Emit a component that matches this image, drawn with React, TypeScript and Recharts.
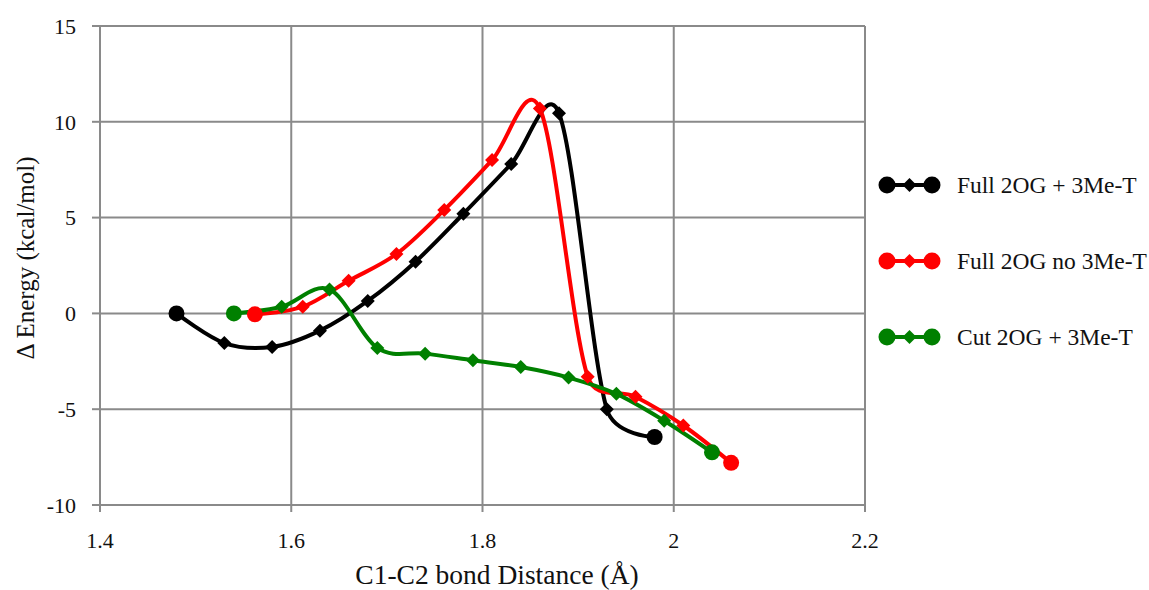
import React from 'react';
import { LineChart, Line, XAxis, YAxis, CartesianGrid, Legend, Customized } from 'recharts';

// ---------- data ----------
const blackX = [1.48, 1.53, 1.58, 1.63, 1.68, 1.73, 1.78, 1.83, 1.88, 1.93, 1.98];
const blackY = [0, -1.55, -1.75, -0.9, 0.65, 2.7, 5.2, 7.8, 10.45, -5.0, -6.45];

const redX = [1.562, 1.612, 1.66, 1.71, 1.76, 1.81, 1.86, 1.91, 1.96, 2.01, 2.06];
const redY = [-0.05, 0.35, 1.7, 3.1, 5.4, 8.0, 10.7, -3.3, -4.35, -5.85, -7.8];

const greenX = [1.54, 1.59, 1.64, 1.69, 1.74, 1.79, 1.84, 1.89, 1.94, 1.99, 2.04];
const greenY = [0, 0.35, 1.25, -1.8, -2.1, -2.45, -2.8, -3.35, -4.2, -5.6, -7.25];

const seriesNames = ['Full 2OG + 3Me-T', 'Full 2OG no 3Me-T', 'Cut 2OG + 3Me-T'];
const seriesColors = ['#000000', '#FF0000', '#008000'];

const xTicks = [1.4, 1.6, 1.8, 2, 2.2];
const yTicks = [-10, -5, 0, 5, 10, 15];

const xTitle = 'C1-C2 bond Distance (Å)';
const yTitle = 'Δ Energy (kcal/mol)';

const toPoints = (xs: number[], ys: number[]) => xs.map((x, i) => ({ x, y: ys[i] }));
const seriesData = [toPoints(blackX, blackY), toPoints(redX, redY), toPoints(greenX, greenY)];

// ---------- styles ----------
const FONT = '"Liberation Serif", "Times New Roman", serif';
const GRID = '#8a8a8a';
const LINE_W = 4;

// Cardinal smoothing with tangent length clamped to a fraction of the segment
function smoothCurve(context: any) {
  const k = 1 / 6;
  const f = 0.5;
  let x0 = NaN, y0 = NaN, x1 = NaN, y1 = NaN, x2 = NaN, y2 = NaN;
  let pt = 0;
  let line: number = NaN;
  const seg = (x: number, y: number) => {
    const L = Math.hypot(x2 - x1, y2 - y1);
    let tx1 = k * (x2 - x0), ty1 = k * (y2 - y0);
    let tx2 = k * (x1 - x), ty2 = k * (y1 - y);
    const l1 = Math.hypot(tx1, ty1);
    if (l1 > f * L && l1 > 0) { const s = (f * L) / l1; tx1 *= s; ty1 *= s; }
    const l2 = Math.hypot(tx2, ty2);
    if (l2 > f * L && l2 > 0) { const s = (f * L) / l2; tx2 *= s; ty2 *= s; }
    context.bezierCurveTo(x1 + tx1, y1 + ty1, x2 + tx2, y2 + ty2, x2, y2);
  };
  return {
    areaStart() { line = 0; },
    areaEnd() { line = NaN; },
    lineStart() {
      x0 = x1 = x2 = y0 = y1 = y2 = NaN;
      pt = 0;
    },
    lineEnd() {
      switch (pt) {
        case 2: context.lineTo(x2, y2); break;
        case 3: seg(x1, y1); break;
      }
      if (line || (line !== 0 && pt === 1)) context.closePath();
      line = 1 - line;
    },
    point(x: number, y: number) {
      x = +x; y = +y;
      switch (pt) {
        case 0: pt = 1; line ? context.lineTo(x, y) : context.moveTo(x, y); break;
        case 1: pt = 2; x1 = x; y1 = y; break;
        case 2: pt = 3; seg(x, y); break;
        default: seg(x, y); break;
      }
      x0 = x1; x1 = x2; x2 = x;
      y0 = y1; y1 = y2; y2 = y;
    },
  };
}

const makeDot = (color: string, n: number) => (props: any) => {
  const { cx, cy, index } = props;
  if (cx == null || cy == null) return <g key={`d-${index}`} />;
  if (index === 0 || index === n - 1) {
    return <circle key={`d-${index}`} cx={cx} cy={cy} r={8} fill={color} stroke="none" />;
  }
  const s = 7;
  return (
    <path
      key={`d-${index}`}
      d={`M${cx},${cy - s}L${cx + s},${cy}L${cx},${cy + s}L${cx - s},${cy}Z`}
      fill={color}
      stroke="none"
    />
  );
};

const LegendContent = () => (
  <div style={{ fontFamily: FONT }}>
    {seriesNames.map((name, i) => (
      <div key={name} style={{ height: 76, display: 'flex', alignItems: 'center' }}>
        <svg width={80} height={24} style={{ display: 'block' }}>
          <line x1={17} y1={12} x2={62} y2={12} stroke={seriesColors[i]} strokeWidth={LINE_W} />
          <circle cx={17} cy={12} r={8.5} fill={seriesColors[i]} />
          <circle cx={62} cy={12} r={8.5} fill={seriesColors[i]} />
          <path d="M39.5,5L46.5,12L39.5,19L32.5,12Z" fill={seriesColors[i]} />
        </svg>
        <span style={{ fontSize: 23.5, color: '#111', marginLeft: 7, whiteSpace: 'nowrap' }}>{name}</span>
      </div>
    ))}
  </div>
);

const Titles = () => (
  <g fill="#111" style={{ fontFamily: FONT }}>
    <text x={497} y={584} textAnchor="middle" fontSize={27.5}>{xTitle}</text>
    <text x={34} y={258} textAnchor="middle" fontSize={25} transform="rotate(-90, 34, 258)">{yTitle}</text>
  </g>
);

export default function App() {
  return (
    <div style={{ position: 'absolute', left: 0, top: 0, width: 1149, height: 590, background: '#fff', fontFamily: FONT }}>
      <LineChart width={1149} height={590} margin={{ top: 26, right: 284, left: 0, bottom: 0 }}>
        <CartesianGrid stroke={GRID} strokeWidth={2} />
        <XAxis
          type="number"
          dataKey="x"
          domain={[1.4, 2.2]}
          ticks={xTicks}
          allowDataOverflow
          height={85}
          axisLine={{ stroke: GRID, strokeWidth: 2 }}
          tickLine={{ stroke: GRID, strokeWidth: 2 }}
          tickSize={7}
          tickMargin={20}
          tick={{ fill: '#111', fontSize: 22, style: { fontFamily: FONT } }}
          tickFormatter={(v: number) => String(v)}
        />
        <YAxis
          type="number"
          dataKey="y"
          domain={[-10, 15]}
          ticks={yTicks}
          allowDataOverflow
          width={100}
          axisLine={{ stroke: GRID, strokeWidth: 2 }}
          tickLine={{ stroke: GRID, strokeWidth: 2 }}
          tickSize={8}
          tickMargin={16}
          tick={{ fill: '#111', fontSize: 22, style: { fontFamily: FONT } }}
        />
        {seriesData.map((d, i) => (
          <Line
            key={seriesNames[i]}
            name={seriesNames[i]}
            data={d}
            dataKey="y"
            type={smoothCurve as any}
            stroke={seriesColors[i]}
            strokeWidth={LINE_W}
            dot={makeDot(seriesColors[i], d.length)}
            activeDot={false}
            isAnimationActive={false}
          />
        ))}
        <Legend
          layout="vertical"
          align="center"
          verticalAlign="middle"
          content={<LegendContent />}
          wrapperStyle={{ left: 870, top: 147, width: 279 }}
        />
        <Customized component={<Titles />} />
      </LineChart>
    </div>
  );
}
